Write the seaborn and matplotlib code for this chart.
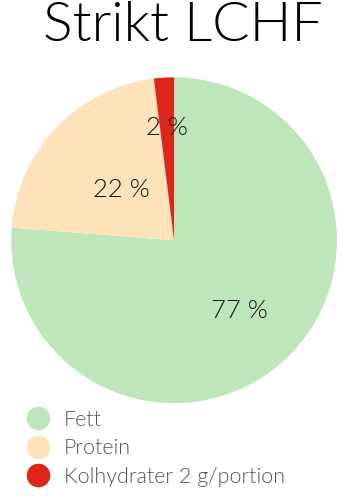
import matplotlib
matplotlib.use("Agg")
import matplotlib.pyplot as plt
from matplotlib.lines import Line2D
import numpy as np
import seaborn as sns

categories = ["Fett", "Protein", "Kolhydrater 2 g/portion"]
values = [77, 22, 2]
pct_labels = ["77 %", "22 %", "2 %"]
colors = ["#bfe5bb", "#fde2ba", "#dc2619"]
title = "Strikt LCHF"

sns.set_theme(style="white")
plt.rcParams["font.family"] = ["Lato", "DejaVu Sans"]

fig = plt.figure(figsize=(3.44, 4.99), dpi=100)
ax = fig.add_axes([0.032, 0.192, 0.948, 0.653])
wedges, _ = ax.pie(values, colors=colors, startangle=90, counterclock=False,
                   wedgeprops=dict(linewidth=0))
ax.set_aspect("equal")
ax.set_xlim(-1, 1)
ax.set_ylim(-1, 1)
ax.axis("off")

dists = [0.59, 0.45, 0.69]
for w, lab, d in zip(wedges, pct_labels, dists):
    th = np.deg2rad((w.theta1 + w.theta2) / 2)
    ax.text(d * np.cos(th), d * np.sin(th), lab, ha="center", va="center",
            fontsize=18.5, fontweight=300, color="#111111")

fig.text(0.53, 0.998, title, ha="center", va="top", fontsize=40,
         fontweight=300, color="#000000")

handles = [Line2D([0], [0], marker="o", linestyle="", markersize=16,
                  markerfacecolor=c, markeredgecolor=c) for c in colors]
leg = fig.legend(handles, categories, loc="upper left",
                 bbox_to_anchor=(0.047, 0.196), frameon=False,
                 fontsize=15.5, labelspacing=0.4, handletextpad=0.6,
                 handlelength=1.2, borderaxespad=0)
for t in leg.get_texts():
    t.set_color("#555555")
    t.set_fontweight(300)

fig.savefig("out.png", dpi=100)
